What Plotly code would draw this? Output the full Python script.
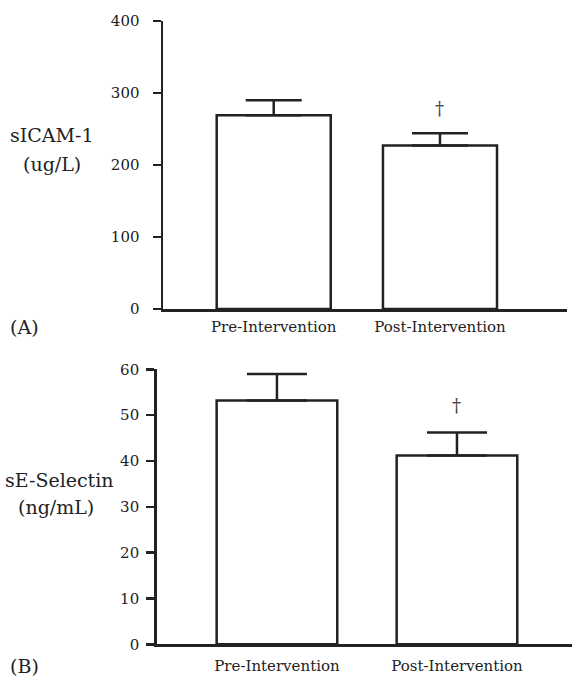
import plotly.graph_objects as go

# ---- data ----
categories = ["Pre-Intervention", "Post-Intervention"]
icam_means = [269, 227]
icam_err = [21, 17]
selectin_means = [53.2, 41.2]
selectin_err = [5.8, 5.0]
icam_ticks = [0, 100, 200, 300, 400]
selectin_ticks = [0, 10, 20, 30, 40, 50, 60]
icam_sig_y = [None, 279]
selectin_sig_y = [None, 52.1]
sig_symbol = "†"

W, H = 573, 677
FONT = "DejaVu Serif"
INK = "#222222"


def fx(p):
    return p / W


def fy(p):
    return 1 - p / H


xpos = [0, 1]

fig = go.Figure()

fig.add_trace(go.Bar(
    x=xpos, y=icam_means, width=0.686,
    marker=dict(color="white", line=dict(color=INK, width=2.5)),
    error_y=dict(type="data", array=icam_err, arrayminus=[0, 0], symmetric=False,
                 color=INK, thickness=2.5, width=28),
    xaxis="x", yaxis="y", showlegend=False, hoverinfo="skip",
))
fig.add_trace(go.Bar(
    x=xpos, y=selectin_means, width=0.67,
    marker=dict(color="white", line=dict(color=INK, width=2.5)),
    error_y=dict(type="data", array=selectin_err, arrayminus=[0, 0], symmetric=False,
                 color=INK, thickness=2.5, width=30),
    xaxis="x2", yaxis="y2", showlegend=False, hoverinfo="skip",
))

axis_common = dict(showline=True, linewidth=2.5, linecolor=INK, showgrid=False,
                   zeroline=False, automargin=False,
                   tickfont=dict(family=FONT, size=15, color=INK))

fig.update_layout(
    width=W, height=H,
    margin=dict(l=0, r=0, t=0, b=0, pad=0),
    paper_bgcolor="white", plot_bgcolor="white",
    barmode="overlay",
    xaxis=dict(domain=[fx(163), fx(567)], range=[-0.666, 1.764], anchor="y",
               tickvals=xpos, ticktext=categories, ticks="", ticklabelstandoff=2,
               **axis_common),
    yaxis=dict(domain=[fy(309), fy(21)], range=[0, 400], anchor="x",
               tickvals=icam_ticks, ticks="outside", ticklen=8, tickwidth=2.5,
               tickcolor=INK, ticklabelstandoff=10, **axis_common),
    xaxis2=dict(domain=[fx(156.7), fx(572)], range=[-0.668, 1.639], anchor="y2",
                tickvals=xpos, ticktext=categories, ticks="", ticklabelstandoff=6,
                **axis_common),
    yaxis2=dict(domain=[fy(644.3), fy(369.3)], range=[0, 60], anchor="x2",
                tickvals=selectin_ticks, ticks="outside", ticklen=8, tickwidth=2.5,
                tickcolor=INK, ticklabelstandoff=4, **axis_common),
)

ann = []
for i, yv in enumerate(icam_sig_y):
    if yv is not None:
        ann.append(dict(x=xpos[i], y=yv, xref="x", yref="y", text=sig_symbol,
                        showarrow=False, font=dict(family=FONT, size=18, color="#444")))
for i, yv in enumerate(selectin_sig_y):
    if yv is not None:
        ann.append(dict(x=xpos[i], y=yv, xref="x2", yref="y2", text=sig_symbol,
                        showarrow=False, font=dict(family=FONT, size=18, color="#444")))

labels = [
    ("sICAM-1", 51, 135),
    ("(ug/L)", 51.5, 164),
    ("sE-Selectin", 59, 480),
    ("(ng/mL)", 56, 507),
    ("(A)", 24.5, 327),
    ("(B)", 24, 666),
]
for t, px, py in labels:
    ann.append(dict(x=fx(px), y=fy(py), xref="paper", yref="paper", text=t,
                    showarrow=False, xanchor="center", yanchor="middle",
                    font=dict(family=FONT, size=19, color=INK)))

fig.update_layout(annotations=ann)
fig.write_html(
    "out.html",
    config={"displayModeBar": False, "staticPlot": True},
    post_script="document.body.style.margin='0';document.body.style.padding='0';"
                "document.body.style.overflow='hidden';",
)
